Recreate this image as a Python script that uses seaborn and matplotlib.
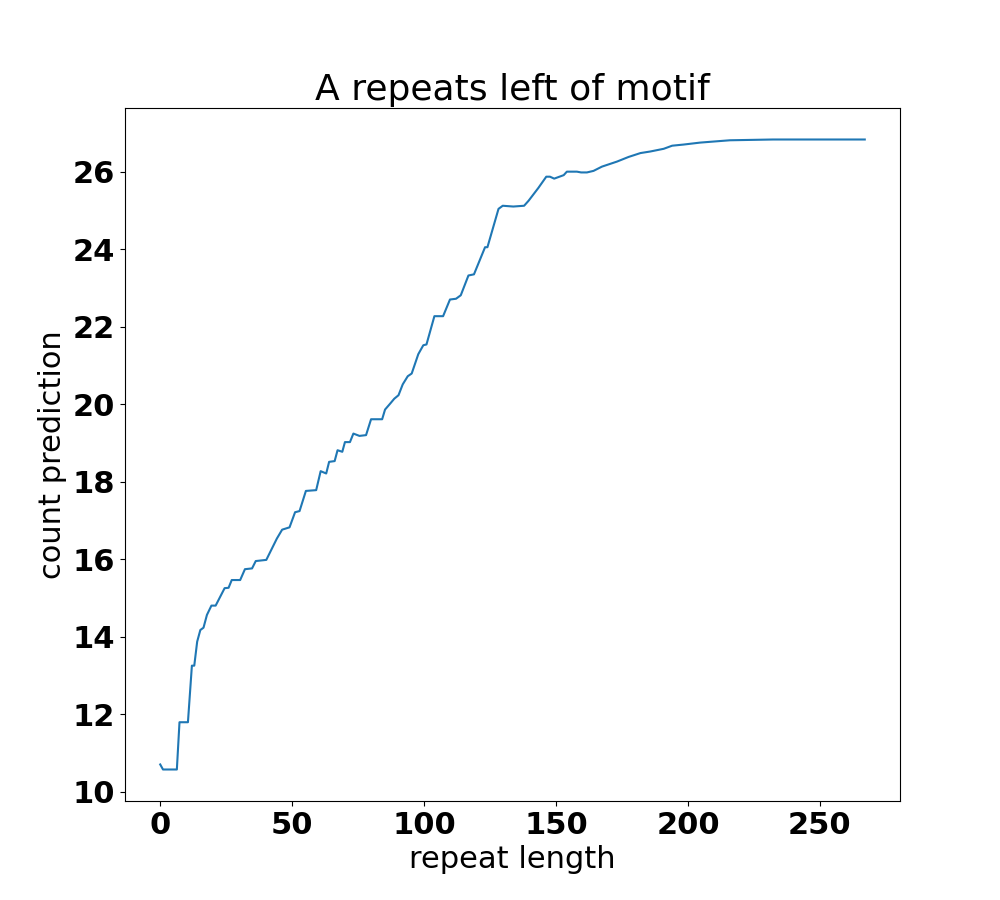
import matplotlib
matplotlib.use("Agg")
import matplotlib.pyplot as plt
import seaborn as sns
import pandas as pd

repeat_length = [0, 1.05, 6.3, 7.3, 10.5, 12.0, 12.9, 14.0, 15.2, 16.4, 17.7, 19.4, 21.0, 24.4,
                 25.9, 27.1, 30.3, 32.1, 34.8, 36.2, 40.2, 44.2, 46.2, 49.0, 51.1, 52.8, 55.2,
                 59.1, 60.8, 62.9, 64.0, 66.1, 67.2, 69.0, 70.0, 71.9, 73.2, 75.5, 78.0, 79.9,
                 84.1, 85.2, 87.1, 88.7, 90.3, 91.9, 93.8, 95.3, 97.8, 99.7, 100.9, 103.9, 107.2,
                 109.8, 112.1, 113.9, 116.8, 118.9, 123.1, 124.0, 128.2, 129.8, 133.8, 137.9,
                 139.6, 143.3, 146.3, 147.7, 149.3, 152.9, 154.1, 157.9, 159.5, 161.7, 164.2,
                 167.4, 173.1, 177.5, 182.0, 185.7, 190.8, 194.0, 198.4, 204.6, 212.1, 215.9,
                 232.2, 267]
count_prediction = [10.70, 10.57, 10.57, 11.79, 11.79, 13.25, 13.25, 13.87, 14.17, 14.23, 14.56,
                    14.80, 14.80, 15.25, 15.26, 15.46, 15.46, 15.74, 15.76, 15.95, 15.98, 16.53,
                    16.76, 16.82, 17.21, 17.24, 17.76, 17.78, 18.27, 18.21, 18.51, 18.53, 18.81,
                    18.77, 19.02, 19.02, 19.24, 19.18, 19.20, 19.61, 19.61, 19.86, 20.01, 20.14,
                    20.23, 20.51, 20.72, 20.79, 21.29, 21.52, 21.54, 22.27, 22.27, 22.70, 22.72,
                    22.81, 23.32, 23.35, 24.05, 24.05, 25.04, 25.12, 25.10, 25.12, 25.25, 25.58,
                    25.87, 25.87, 25.82, 25.91, 26.00, 26.00, 25.98, 25.98, 26.02, 26.13, 26.26,
                    26.38, 26.48, 26.52, 26.59, 26.67, 26.70, 26.75, 26.79, 26.81, 26.83, 26.83]

df = pd.DataFrame({"repeat length": repeat_length, "count prediction": count_prediction})

fig, ax = plt.subplots(figsize=(10, 9), dpi=100)
sns.lineplot(data=df, x="repeat length", y="count prediction", ax=ax,
             estimator=None, sort=False, color="#1f77b4", linewidth=1.5)

ax.set_title("A repeats left of motif", fontsize=26)
ax.set_xlabel("repeat length", fontsize=22)
ax.set_ylabel("count prediction", fontsize=22)
for lab in ax.get_xticklabels() + ax.get_yticklabels():
    lab.set_fontsize(22)
    lab.set_fontweight("bold")

fig.savefig("out.png", dpi=100)
